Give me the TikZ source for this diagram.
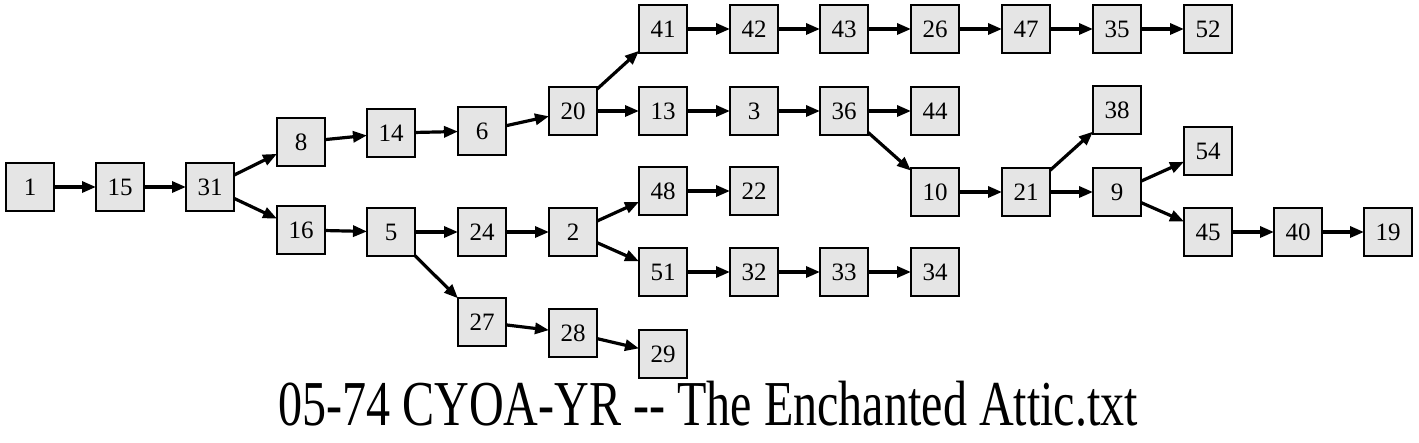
\documentclass[tikz,border=0pt]{standalone}
\usepackage{graphicx}
\usepackage{fontspec}
\setmainfont{Liberation Serif}
\usepackage{tikz}
\usetikzlibrary{arrows.meta,calc,positioning}
\newdimen\hdim
\newdimen\wdim
\hdim=24pt
\wdim=24pt
\tikzstyle{element}=[
  draw=black,
  fill=gray!20,
  font={\fontsize{12.5}{14}\selectfont},
  inner sep=0pt,
  minimum height=\hdim,
  minimum width=\wdim,
  outer sep=0pt,
  rectangle,
  text centered,
  line width=1pt,
]
\tikzstyle{arrow}=[
  color=black,
  draw=black,
  line width=1.6pt,
]
\tikzstyle{caption}=[
  font={\fontsize{32}{36}\selectfont},
  anchor=base,
  inner sep=0pt,
]
\tikzset{
  >={Triangle[length=7pt,width=5.5pt]},
}

\begin{document}
\begin{tikzpicture}[x=0.5pt,y=-0.5pt]
      \useasboundingbox (0,0) rectangle (1419,443);
      %% left part
      \node (n1) [element] at (30,187) {1};
      \node (n15) [element] at (120,187) {15};
      \node (n31) [element] at (210,187) {31};
      \node (n8) [element] at (301,142) {8};
      \node (n16) [element] at (301,230) {16};
      \node (n14) [element] at (391,133) {14};
      \node (n6) [element] at (482,131) {6};
      \node (n5) [element] at (391,232) {5};
      \node (n24) [element] at (482,232) {24};
      \node (n27) [element] at (482,322) {27};
      \node (n28) [element] at (573,333) {28};
      \node (n29) [element] at (663,354) {29};
      %% middle part
      \node (n20) [element] at (573,111) {20};
      \node (n41) [element] at (663,29) {41};
      \node (n42) [element] at (754,29) {42};
      \node (n43) [element] at (844,29) {43};
      \node (n26) [element] at (935,29) {26};
      \node (n47) [element] at (1026,29) {47};
      \node (n35) [element] at (1117,29) {35};
      \node (n52) [element] at (1208,29) {52};
      \node (n13) [element] at (663,111) {13};
      \node (n3) [element] at (754,111) {3};
      \node (n36) [element] at (844,111) {36};
      \node (n44) [element] at (935,111) {44};
      \node (n2) [element] at (573,232) {2};
      \node (n48) [element] at (663,191) {48};
      \node (n22) [element] at (754,191) {22};
      \node (n51) [element] at (663,272) {51};
      \node (n32) [element] at (754,272) {32};
      \node (n33) [element] at (844,272) {33};
      \node (n34) [element] at (935,272) {34};
      %% right part
      \node (n10) [element] at (935,192) {10};
      \node (n21) [element] at (1026,192) {21};
      \node (n38) [element] at (1117,110) {38};
      \node (n9) [element] at (1117,192) {9};
      \node (n54) [element] at (1208,151) {54};
      \node (n45) [element] at (1208,232) {45};
      \node (n40) [element] at (1298,232) {40};
      \node (n19) [element] at (1388,232) {19};
      %%
      \draw [->, arrow] (n1) -- (n15);
      \draw [->, arrow] (n15) -- (n31);
      \draw [->, arrow] (n31) -- (n8);
      \draw [->, arrow] (n31) -- (n16);
      \draw [->, arrow] (n8) -- (n14);
      \draw [->, arrow] (n14) -- (n6);
      \draw [->, arrow] (n6) -- (n20);
      \draw [->, arrow] (n20) -- (n41);
      \draw [->, arrow] (n20) -- (n13);
      \draw [->, arrow] (n41) -- (n42);
      \draw [->, arrow] (n42) -- (n43);
      \draw [->, arrow] (n43) -- (n26);
      \draw [->, arrow] (n26) -- (n47);
      \draw [->, arrow] (n47) -- (n35);
      \draw [->, arrow] (n35) -- (n52);
      \draw [->, arrow] (n13) -- (n3);
      \draw [->, arrow] (n3) -- (n36);
      \draw [->, arrow] (n36) -- (n44);
      \draw [->, arrow] (n36) -- (n10);
      \draw [->, arrow] (n10) -- (n21);
      \draw [->, arrow] (n21) -- (n38);
      \draw [->, arrow] (n21) -- (n9);
      \draw [->, arrow] (n9) -- (n54);
      \draw [->, arrow] (n9) -- (n45);
      \draw [->, arrow] (n45) -- (n40);
      \draw [->, arrow] (n40) -- (n19);
      \draw [->, arrow] (n16) -- (n5);
      \draw [->, arrow] (n5) -- (n24);
      \draw [->, arrow] (n5) -- (n27);
      \draw [->, arrow] (n24) -- (n2);
      \draw [->, arrow] (n2) -- (n48);
      \draw [->, arrow] (n2) -- (n51);
      \draw [->, arrow] (n48) -- (n22);
      \draw [->, arrow] (n51) -- (n32);
      \draw [->, arrow] (n32) -- (n33);
      \draw [->, arrow] (n33) -- (n34);
      \draw [->, arrow] (n27) -- (n28);
      \draw [->, arrow] (n28) -- (n29);
      %% title
      \node (title) [caption] at (708,425)
        {\resizebox{430pt}{\height}{05-74 CYOA-YR -{}- The Enchanted Attic.txt}};
\end{tikzpicture}
\end{document}
